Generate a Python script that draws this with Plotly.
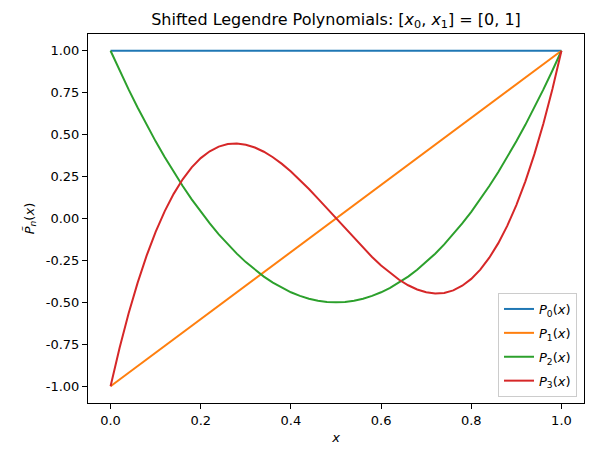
import plotly.graph_objects as go

x_vals = [0.00, 0.02, 0.04, 0.06, 0.08, 0.10, 0.12, 0.14, 0.16, 0.18,
          0.20, 0.22, 0.24, 0.26, 0.28, 0.30, 0.32, 0.34, 0.36, 0.38,
          0.40, 0.42, 0.44, 0.46, 0.48, 0.50, 0.52, 0.54, 0.56, 0.58,
          0.60, 0.62, 0.64, 0.66, 0.68, 0.70, 0.72, 0.74, 0.76, 0.78,
          0.80, 0.82, 0.84, 0.86, 0.88, 0.90, 0.92, 0.94, 0.96, 0.98, 1.00]

p0_vals = [1.0] * 51

p1_vals = [-1.00, -0.96, -0.92, -0.88, -0.84, -0.80, -0.76, -0.72, -0.68, -0.64,
           -0.60, -0.56, -0.52, -0.48, -0.44, -0.40, -0.36, -0.32, -0.28, -0.24,
           -0.20, -0.16, -0.12, -0.08, -0.04, 0.00, 0.04, 0.08, 0.12, 0.16,
           0.20, 0.24, 0.28, 0.32, 0.36, 0.40, 0.44, 0.48, 0.52, 0.56,
           0.60, 0.64, 0.68, 0.72, 0.76, 0.80, 0.84, 0.88, 0.92, 0.96, 1.00]

p2_vals = [1.0, 0.8824, 0.7696, 0.6616, 0.5584, 0.46, 0.3664, 0.2776, 0.1936, 0.1144,
           0.04, -0.0296, -0.0944, -0.1544, -0.2096, -0.26, -0.3056, -0.3464, -0.3824, -0.4136,
           -0.44, -0.4616, -0.4784, -0.4904, -0.4976, -0.5, -0.4976, -0.4904, -0.4784, -0.4616,
           -0.44, -0.4136, -0.3824, -0.3464, -0.3056, -0.26, -0.2096, -0.1544, -0.0944, -0.0296,
           0.04, 0.1144, 0.1936, 0.2776, 0.3664, 0.46, 0.5584, 0.6616, 0.7696, 0.8824, 1.0]

p3_vals = [-1.0, -0.77184, -0.56672, -0.38368, -0.22176, -0.08, 0.04256, 0.14688, 0.23392, 0.30464,
           0.36, 0.40096, 0.42848, 0.44352, 0.44704, 0.44, 0.42336, 0.39808, 0.36512, 0.32544,
           0.28, 0.22976, 0.17568, 0.11872, 0.05984, 0.0, -0.05984, -0.11872, -0.17568, -0.22976,
           -0.28, -0.32544, -0.36512, -0.39808, -0.42336, -0.44, -0.44704, -0.44352, -0.42848, -0.40096,
           -0.36, -0.30464, -0.23392, -0.14688, -0.04256, 0.08, 0.22176, 0.38368, 0.56672, 0.77184, 1.0]

series = [
    ("<i>P</i><sub>0</sub>(<i>x</i>)", p0_vals, "#1f77b4"),
    ("<i>P</i><sub>1</sub>(<i>x</i>)", p1_vals, "#ff7f0e"),
    ("<i>P</i><sub>2</sub>(<i>x</i>)", p2_vals, "#2ca02c"),
    ("<i>P</i><sub>3</sub>(<i>x</i>)", p3_vals, "#d62728"),
]

x_ticks = [0.0, 0.2, 0.4, 0.6, 0.8, 1.0]
y_ticks = [-1.00, -0.75, -0.50, -0.25, 0.00, 0.25, 0.50, 0.75, 1.00]

fig = go.Figure()
for i, (name, vals, color) in enumerate(series):
    fig.add_trace(go.Scatter(x=x_vals, y=vals, mode="lines", name=name,
                             legendgroup=str(i),
                             line=dict(color=color, width=2)))

font = "DejaVu Sans, sans-serif"
axis_common = dict(showline=True, linecolor="black", linewidth=1, mirror=True,
                   ticks="outside", ticklen=5, tickwidth=1, tickcolor="black",
                   showgrid=False, zeroline=False,
                   tickfont=dict(family=font, size=13, color="black"))

fig.update_layout(
    width=593, height=457,
    margin=dict(l=88, r=9, t=34, b=54),
    paper_bgcolor="white", plot_bgcolor="white",
    font=dict(family=font, color="black"),
    title=dict(text="Shifted Legendre Polynomials: [<i>x</i><sub>0</sub>, <i>x</i><sub>1</sub>] = [0, 1]",
               x=0.5 + (88 - 9) / 2 / 593, xanchor="center",
               y=1 - 19 / 457, yanchor="middle", yref="container",
               font=dict(family=font, size=16, color="black")),
    xaxis=dict(range=[-0.05, 1.05], tickvals=x_ticks,
               ticktext=[f"{v:.1f}" for v in x_ticks],
               title=dict(text="<i>x</i>", font=dict(family=font, size=13), standoff=6),
               **axis_common),
    yaxis=dict(range=[-1.1, 1.1], tickvals=y_ticks,
               ticktext=[f"{v:.2f}" for v in y_ticks],
               title=dict(text="<i>P\u0303</i><sub><i>n</i></sub>(<i>x</i>)",
                          font=dict(family=font, size=13), standoff=8),
               **axis_common),
    legend=dict(x=1 - 7 / 496, y=6 / 369, xanchor="right", yanchor="bottom",
                bgcolor="rgba(255,255,255,0.8)", bordercolor="#cccccc", borderwidth=1,
                font=dict(family=font, size=13, color="black"),
                traceorder="grouped", tracegroupgap=4,
                entrywidth=45, entrywidthmode="pixels"),
)

fig.write_html("out.html")
